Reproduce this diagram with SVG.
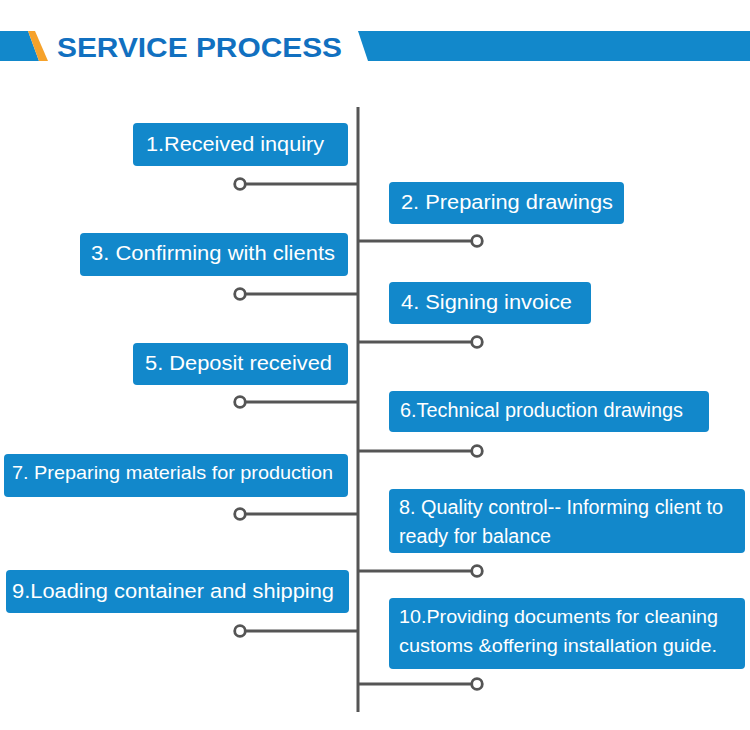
<svg xmlns="http://www.w3.org/2000/svg" width="750" height="730" viewBox="0 0 750 730">
<style>
.box{fill:#1288cb}
.t{font-family:"Liberation Sans",Arial,sans-serif;fill:#ffffff;font-size:20px}
.ln{stroke:#555555;stroke-width:3;fill:none}
.dot{fill:#ffffff;stroke:#555555;stroke-width:2.8}
.title{font-family:"Liberation Sans",Arial,sans-serif;font-weight:bold;font-size:27px;fill:#1170c0}
</style>
<rect width="750" height="730" fill="#ffffff"/>
<g id="header">
<polygon points="0,31 28,31 39,61 0,61" fill="#1288cb"/>
<polygon points="28,31 35,31 48,61 39,61" fill="#f6a22b"/>
<polygon points="358,31 750,31 750,61 368,61" fill="#1288cb"/>
<text class="title" x="57" y="57" textLength="285" lengthAdjust="spacingAndGlyphs">SERVICE PROCESS</text>
</g>
<g id="connectors">
<line class="ln" x1="358" y1="107" x2="358" y2="712"/>
<line class="ln" x1="240" y1="184" x2="358" y2="184"/>
<line class="ln" x1="240" y1="294" x2="358" y2="294"/>
<line class="ln" x1="240" y1="402" x2="358" y2="402"/>
<line class="ln" x1="240" y1="514" x2="358" y2="514"/>
<line class="ln" x1="240" y1="631" x2="358" y2="631"/>
<line class="ln" x1="358" y1="241" x2="477" y2="241"/>
<line class="ln" x1="358" y1="342" x2="477" y2="342"/>
<line class="ln" x1="358" y1="451" x2="477" y2="451"/>
<line class="ln" x1="358" y1="571" x2="477" y2="571"/>
<line class="ln" x1="358" y1="684" x2="477" y2="684"/>
<circle class="dot" cx="240" cy="184" r="5.3"/>
<circle class="dot" cx="240" cy="294" r="5.3"/>
<circle class="dot" cx="240" cy="402" r="5.3"/>
<circle class="dot" cx="240" cy="514" r="5.3"/>
<circle class="dot" cx="240" cy="631" r="5.3"/>
<circle class="dot" cx="477" cy="241" r="5.3"/>
<circle class="dot" cx="477" cy="342" r="5.3"/>
<circle class="dot" cx="477" cy="451" r="5.3"/>
<circle class="dot" cx="477" cy="571" r="5.3"/>
<circle class="dot" cx="477" cy="684" r="5.3"/>
</g>
<g id="step1">
<rect class="box" x="133" y="123" width="215" height="43" rx="4"/>
<text class="t" x="146" y="151" style="font-size:21px" textLength="178" lengthAdjust="spacingAndGlyphs">1.Received inquiry</text>
</g>
<g id="step2">
<rect class="box" x="389" y="182" width="235" height="42" rx="4"/>
<text class="t" x="401" y="209" textLength="212" lengthAdjust="spacingAndGlyphs">2. Preparing drawings</text>
</g>
<g id="step3">
<rect class="box" x="80" y="233" width="268" height="43" rx="4"/>
<text class="t" x="91" y="260" textLength="244" lengthAdjust="spacingAndGlyphs">3. Confirming with clients</text>
</g>
<g id="step4">
<rect class="box" x="389" y="282" width="202" height="42" rx="4"/>
<text class="t" x="401" y="309" textLength="171" lengthAdjust="spacingAndGlyphs">4. Signing invoice</text>
</g>
<g id="step5">
<rect class="box" x="133" y="343" width="215" height="42" rx="4"/>
<text class="t" x="145" y="370" textLength="187" lengthAdjust="spacingAndGlyphs">5. Deposit received</text>
</g>
<g id="step6">
<rect class="box" x="389" y="391" width="320" height="41" rx="4"/>
<text class="t" x="400" y="417" style="font-size:19.5px" textLength="283" lengthAdjust="spacingAndGlyphs">6.Technical production drawings</text>
</g>
<g id="step7">
<rect class="box" x="4" y="454" width="344" height="43" rx="4"/>
<text class="t" x="12" y="479" style="font-size:19px" textLength="321" lengthAdjust="spacingAndGlyphs">7. Preparing materials for production</text>
</g>
<g id="step8">
<rect class="box" x="389" y="489" width="356" height="64" rx="4"/>
<text class="t" x="399" y="514" style="font-size:19.5px" textLength="324" lengthAdjust="spacingAndGlyphs">8. Quality control-- Informing client to</text>
<text class="t" x="399" y="543" style="font-size:19.5px" textLength="152" lengthAdjust="spacingAndGlyphs">ready for balance</text>
</g>
<g id="step9">
<rect class="box" x="6" y="570" width="343" height="43" rx="4"/>
<text class="t" x="12" y="598" style="font-size:20.5px" textLength="322" lengthAdjust="spacingAndGlyphs">9.Loading container and shipping</text>
</g>
<g id="step10">
<rect class="box" x="389" y="598" width="356" height="71" rx="4"/>
<text class="t" x="399" y="623" style="font-size:19px" textLength="319" lengthAdjust="spacingAndGlyphs">10.Providing documents for cleaning</text>
<text class="t" x="399" y="652" style="font-size:19px" textLength="318" lengthAdjust="spacingAndGlyphs">customs &amp;offering installation guide.</text>
</g>
</svg>
